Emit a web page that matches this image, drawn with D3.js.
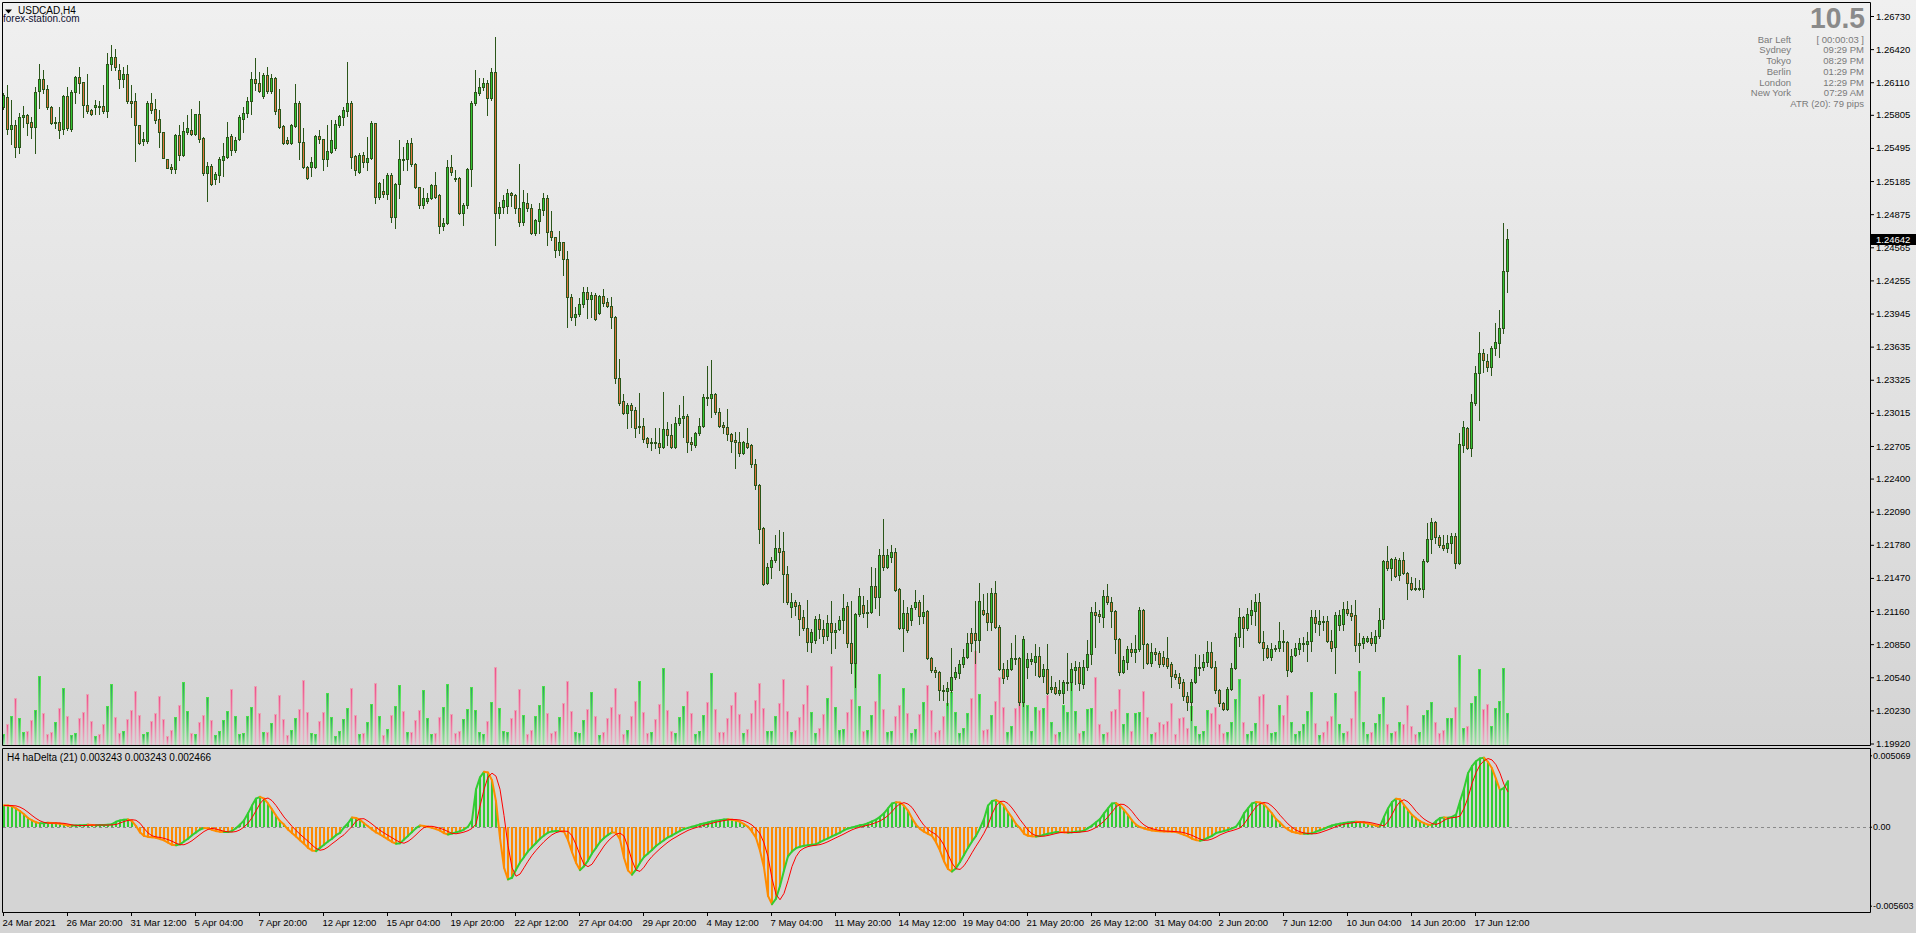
<!DOCTYPE html>
<html><head><meta charset="utf-8">
<script src="https://cdn.jsdelivr.net/npm/d3@7"></script>
<style>body{margin:0;background:#d4d4d4;overflow:hidden}svg{display:block}</style>
</head><body>
<svg id="c" width="1916" height="933"></svg>
<script>
const symbolTitle = "USDCAD,H4";
const watermark = "forex-station.com";
const opens = [
1.2588,1.2597,1.2567,1.2571,1.2550,1.2578,1.2580,1.2574,1.2569,1.2603,
1.2614,1.2605,1.2588,1.2573,1.2574,1.2567,1.2598,1.2567,1.2602,1.2616,
1.2611,1.2590,1.2585,1.2588,1.2589,1.2589,1.2584,1.2628,1.2635,1.2622,
1.2614,1.2619,1.2593,1.2593,1.2571,1.2556,1.2556,1.2592,1.2586,1.2577,
1.2564,1.2539,1.2532,1.2530,1.2562,1.2543,1.2564,1.2566,1.2563,1.2581,
1.2559,1.2526,1.2533,1.2520,1.2524,1.2538,1.2541,1.2561,1.2548,1.2558,
1.2577,1.2582,1.2593,1.2614,1.2610,1.2598,1.2618,1.2603,1.2615,1.2586,
1.2570,1.2557,1.2554,1.2570,1.2592,1.2555,1.2532,1.2532,1.2532,1.2561,
1.2558,1.2539,1.2546,1.2549,1.2571,1.2578,1.2584,1.2592,1.2542,1.2527,
1.2543,1.2536,1.2540,1.2573,1.2504,1.2509,1.2506,1.2524,1.2485,1.2516,
1.2539,1.2539,1.2554,1.2534,1.2513,1.2496,1.2500,1.2503,1.2515,1.2505,
1.2476,1.2479,1.2532,1.2521,1.2521,1.2489,1.2496,1.2530,1.2592,1.2601,
1.2607,1.2610,1.2596,1.2621,1.2489,1.2494,1.2495,1.2507,1.2505,1.2493,
1.2480,1.2498,1.2493,1.2470,1.2481,1.2491,1.2503,1.2472,1.2466,1.2454,
1.2461,1.2446,1.2410,1.2391,1.2394,1.2403,1.2415,1.2408,1.2412,1.2395,
1.2411,1.2405,1.2402,1.2391,1.2334,1.2313,1.2301,1.2309,1.2304,1.2288,
1.2289,1.2278,1.2273,1.2274,1.2273,1.2270,1.2286,1.2281,1.2270,1.2292,
1.2297,1.2299,1.2274,1.2271,1.2283,1.2289,1.2316,1.2315,1.2319,1.2302,
1.2290,1.2288,1.2282,1.2276,1.2274,1.2264,1.2273,1.2271,1.2254,1.2234,
1.2194,1.2142,1.2157,1.2164,1.2175,1.2172,1.2151,1.2120,1.2124,1.2122,
1.2110,1.2100,1.2087,1.2089,1.2109,1.2099,1.2093,1.2105,1.2096,1.2099,
1.2108,1.2121,1.2086,1.2067,1.2113,1.2122,1.2114,1.2115,1.2139,1.2129,
1.2168,1.2157,1.2167,1.2171,1.2137,1.2100,1.2114,1.2108,1.2120,1.2124,
1.2111,1.2116,1.2072,1.2061,1.2059,1.2042,1.2041,1.2042,1.2054,1.2058,
1.2066,1.2073,1.2095,1.2095,1.2089,1.2117,1.2114,1.2106,1.2133,1.2101,
1.2062,1.2055,1.2062,1.2072,1.2072,1.2031,1.2064,1.2069,1.2068,1.2074,
1.2055,1.2062,1.2043,1.2045,1.2039,1.2039,1.2049,1.2050,1.2061,1.2064,
1.2048,1.2064,1.2076,1.2115,1.2113,1.2110,1.2130,1.2124,1.2116,1.2090,
1.2059,1.2068,1.2080,1.2078,1.2080,1.2117,1.2085,1.2067,1.2078,1.2077,
1.2073,1.2072,1.2066,1.2057,1.2054,1.2050,1.2036,1.2031,1.2050,1.2063,
1.2064,1.2068,1.2078,1.2064,1.2042,1.2030,1.2024,1.2043,1.2063,1.2092,
1.2110,1.2100,1.2112,1.2116,1.2124,1.2087,1.2081,1.2073,1.2080,1.2081,
1.2088,1.2087,1.2060,1.2075,1.2080,1.2085,1.2085,1.2088,1.2110,1.2104,
1.2107,1.2107,1.2088,1.2082,1.2103,1.2104,1.2118,1.2114,1.2112,1.2084,
1.2086,1.2088,1.2091,1.2086,1.2093,1.2109,1.2163,1.2156,1.2165,1.2150,
1.2164,1.2152,1.2142,1.2138,1.2137,1.2137,1.2163,1.2183,1.2199,1.2185,
1.2178,1.2175,1.2180,1.2186,1.2161,1.2271,1.2287,1.2269,1.2311,1.2339,
1.2358,1.2350,1.2344,1.2362,1.2367,1.2381,1.2434];
const highs = [
1.2601,1.2608,1.2594,1.2576,1.2582,1.2589,1.2581,1.2578,1.2607,1.2628,
1.2622,1.2608,1.2589,1.2578,1.2588,1.2599,1.2607,1.2604,1.2617,1.2625,
1.2611,1.2619,1.2586,1.2594,1.2593,1.2608,1.2638,1.2646,1.2642,1.2628,
1.2625,1.2627,1.2608,1.2601,1.2571,1.2564,1.2593,1.2601,1.2595,1.2585,
1.2564,1.2539,1.2534,1.2563,1.2571,1.2574,1.2580,1.2586,1.2581,1.2593,
1.2560,1.2536,1.2534,1.2527,1.2541,1.2554,1.2574,1.2563,1.2560,1.2580,
1.2588,1.2597,1.2621,1.2634,1.2621,1.2620,1.2625,1.2619,1.2616,1.2605,
1.2571,1.2560,1.2572,1.2609,1.2593,1.2568,1.2533,1.2541,1.2562,1.2566,
1.2558,1.2571,1.2576,1.2576,1.2580,1.2588,1.2630,1.2593,1.2543,1.2545,
1.2546,1.2560,1.2575,1.2573,1.2518,1.2520,1.2526,1.2526,1.2517,1.2557,
1.2550,1.2557,1.2559,1.2535,1.2513,1.2512,1.2507,1.2516,1.2527,1.2506,
1.2484,1.2538,1.2543,1.2529,1.2522,1.2498,1.2531,1.2593,1.2622,1.2615,
1.2615,1.2613,1.2624,1.2653,1.2499,1.2505,1.2511,1.2508,1.2506,1.2534,
1.2510,1.2507,1.2497,1.2483,1.2498,1.2507,1.2505,1.2490,1.2466,1.2472,
1.2461,1.2453,1.2413,1.2401,1.2409,1.2419,1.2419,1.2415,1.2414,1.2412,
1.2417,1.2409,1.2410,1.2392,1.2352,1.2319,1.2311,1.2311,1.2307,1.2320,
1.2297,1.2279,1.2278,1.2287,1.2287,1.2321,1.2293,1.2291,1.2298,1.2309,
1.2317,1.2300,1.2279,1.2284,1.2297,1.2319,1.2345,1.2351,1.2320,1.2306,
1.2293,1.2305,1.2283,1.2284,1.2284,1.2275,1.2287,1.2272,1.2258,1.2235,
1.2195,1.2161,1.2167,1.2187,1.2192,1.2190,1.2158,1.2133,1.2126,1.2124,
1.2117,1.2126,1.2099,1.2111,1.2113,1.2108,1.2112,1.2125,1.2105,1.2111,
1.2132,1.2124,1.2125,1.2114,1.2138,1.2130,1.2126,1.2157,1.2156,1.2174,
1.2202,1.2174,1.2178,1.2175,1.2138,1.2126,1.2120,1.2122,1.2136,1.2126,
1.2131,1.2117,1.2073,1.2064,1.2060,1.2047,1.2050,1.2081,1.2064,1.2070,
1.2080,1.2095,1.2100,1.2125,1.2142,1.2132,1.2133,1.2138,1.2144,1.2103,
1.2067,1.2070,1.2086,1.2094,1.2073,1.2093,1.2077,1.2077,1.2085,1.2082,
1.2066,1.2085,1.2055,1.2050,1.2051,1.2051,1.2077,1.2067,1.2069,1.2068,
1.2070,1.2089,1.2120,1.2124,1.2117,1.2136,1.2141,1.2129,1.2117,1.2091,
1.2074,1.2083,1.2086,1.2094,1.2120,1.2118,1.2086,1.2086,1.2081,1.2079,
1.2079,1.2092,1.2068,1.2061,1.2058,1.2052,1.2040,1.2052,1.2076,1.2075,
1.2076,1.2088,1.2087,1.2069,1.2043,1.2031,1.2045,1.2067,1.2095,1.2119,
1.2111,1.2119,1.2126,1.2132,1.2133,1.2097,1.2084,1.2086,1.2084,1.2106,
1.2098,1.2088,1.2080,1.2086,1.2091,1.2092,1.2096,1.2117,1.2117,1.2117,
1.2111,1.2111,1.2098,1.2115,1.2117,1.2124,1.2125,1.2122,1.2126,1.2095,
1.2093,1.2093,1.2096,1.2098,1.2119,1.2164,1.2177,1.2166,1.2167,1.2166,
1.2171,1.2153,1.2148,1.2147,1.2145,1.2165,1.2198,1.2203,1.2200,1.2187,
1.2187,1.2187,1.2189,1.2189,1.2283,1.2294,1.2288,1.2319,1.2345,1.2377,
1.2361,1.2357,1.2364,1.2386,1.2398,1.2479,1.2474];
const lows = [
1.2586,1.2563,1.2553,1.2541,1.2545,1.2569,1.2562,1.2559,1.2545,1.2587,
1.2601,1.2586,1.2572,1.2568,1.2559,1.2563,1.2566,1.2565,1.2592,1.2601,
1.2578,1.2582,1.2580,1.2581,1.2581,1.2582,1.2578,1.2622,1.2622,1.2606,
1.2607,1.2592,1.2578,1.2537,1.2553,1.2552,1.2554,1.2582,1.2573,1.2550,
1.2540,1.2531,1.2526,1.2526,1.2538,1.2542,1.2563,1.2562,1.2562,1.2555,
1.2524,1.2500,1.2515,1.2516,1.2518,1.2523,1.2540,1.2543,1.2546,1.2557,
1.2564,1.2578,1.2581,1.2604,1.2602,1.2596,1.2601,1.2601,1.2581,1.2568,
1.2553,1.2553,1.2553,1.2569,1.2539,1.2531,1.2520,1.2523,1.2531,1.2554,
1.2529,1.2533,1.2545,1.2548,1.2569,1.2571,1.2579,1.2531,1.2524,1.2526,
1.2532,1.2529,1.2539,1.2498,1.2502,1.2504,1.2502,1.2480,1.2475,1.2503,
1.2529,1.2529,1.2533,1.2512,1.2493,1.2493,1.2498,1.2502,1.2503,1.2470,
1.2473,1.2478,1.2524,1.2519,1.2488,1.2477,1.2493,1.2514,1.2590,1.2599,
1.2604,1.2580,1.2594,1.2459,1.2484,1.2489,1.2489,1.2495,1.2489,1.2476,
1.2477,1.2490,1.2469,1.2468,1.2470,1.2487,1.2459,1.2463,1.2447,1.2449,
1.2431,1.2382,1.2388,1.2384,1.2392,1.2401,1.2390,1.2391,1.2388,1.2394,
1.2402,1.2401,1.2381,1.2329,1.2309,1.2300,1.2287,1.2288,1.2279,1.2283,
1.2274,1.2270,1.2267,1.2269,1.2264,1.2269,1.2271,1.2269,1.2269,1.2290,
1.2279,1.2265,1.2267,1.2270,1.2281,1.2288,1.2309,1.2298,1.2300,1.2288,
1.2283,1.2276,1.2265,1.2250,1.2261,1.2263,1.2269,1.2251,1.2230,1.2180,
1.2140,1.2141,1.2147,1.2162,1.2154,1.2124,1.2123,1.2110,1.2112,1.2094,
1.2098,1.2079,1.2078,1.2086,1.2091,1.2086,1.2089,1.2077,1.2081,1.2098,
1.2095,1.2082,1.2058,1.2045,1.2111,1.2110,1.2101,1.2114,1.2119,1.2112,
1.2154,1.2156,1.2162,1.2135,1.2099,1.2079,1.2096,1.2103,1.2118,1.2104,
1.2105,1.2071,1.2059,1.2054,1.2033,1.2033,1.2028,1.2040,1.2052,1.2053,
1.2064,1.2072,1.2079,1.2067,1.2078,1.2112,1.2098,1.2098,1.2100,1.2061,
1.2049,1.2052,1.2061,1.2066,1.2028,1.2027,1.2053,1.2066,1.2056,1.2054,
1.2050,1.2038,1.2040,1.2038,1.2037,1.2030,1.2042,1.2042,1.2048,1.2042,
1.2044,1.2061,1.2066,1.2082,1.2106,1.2101,1.2123,1.2101,1.2077,1.2056,
1.2058,1.2062,1.2074,1.2068,1.2079,1.2063,1.2066,1.2065,1.2070,1.2064,
1.2065,1.2063,1.2045,1.2052,1.2044,1.2033,1.2023,1.2014,1.2049,1.2056,
1.2061,1.2065,1.2063,1.2039,1.2027,1.2023,1.2023,1.2042,1.2062,1.2083,
1.2082,1.2098,1.2104,1.2103,1.2086,1.2070,1.2072,1.2070,1.2079,1.2079,
1.2079,1.2055,1.2059,1.2074,1.2076,1.2079,1.2069,1.2079,1.2096,1.2094,
1.2098,1.2087,1.2079,1.2058,1.2098,1.2098,1.2112,1.2108,1.2079,1.2068,
1.2081,1.2087,1.2084,1.2079,1.2091,1.2100,1.2154,1.2145,1.2148,1.2145,
1.2151,1.2127,1.2136,1.2136,1.2136,1.2129,1.2162,1.2170,1.2180,1.2176,
1.2173,1.2171,1.2170,1.2156,1.2160,1.2265,1.2268,1.2261,1.2309,1.2295,
1.2340,1.2341,1.2337,1.2356,1.2354,1.2376,1.2415];
const closes = [
1.2599,1.2567,1.2571,1.2550,1.2578,1.2580,1.2573,1.2569,1.2602,1.2614,
1.2605,1.2588,1.2573,1.2574,1.2566,1.2598,1.2568,1.2602,1.2616,1.2610,
1.2590,1.2584,1.2581,1.2590,1.2588,1.2584,1.2628,1.2635,1.2625,1.2614,
1.2619,1.2593,1.2592,1.2571,1.2554,1.2558,1.2592,1.2585,1.2576,1.2564,
1.2540,1.2531,1.2530,1.2562,1.2543,1.2565,1.2568,1.2563,1.2581,1.2558,
1.2526,1.2533,1.2516,1.2525,1.2539,1.2542,1.2560,1.2548,1.2557,1.2578,
1.2582,1.2593,1.2614,1.2610,1.2603,1.2618,1.2603,1.2615,1.2584,1.2569,
1.2554,1.2554,1.2571,1.2592,1.2555,1.2532,1.2521,1.2536,1.2561,1.2558,
1.2539,1.2547,1.2557,1.2572,1.2579,1.2585,1.2592,1.2541,1.2529,1.2543,
1.2536,1.2540,1.2573,1.2504,1.2517,1.2506,1.2524,1.2485,1.2516,1.2539,
1.2538,1.2554,1.2534,1.2513,1.2496,1.2503,1.2503,1.2515,1.2504,1.2476,
1.2479,1.2532,1.2527,1.2520,1.2489,1.2496,1.2530,1.2592,1.2602,1.2607,
1.2610,1.2596,1.2621,1.2489,1.2494,1.2501,1.2507,1.2505,1.2493,1.2480,
1.2499,1.2493,1.2470,1.2482,1.2492,1.2503,1.2471,1.2466,1.2454,1.2461,
1.2446,1.2410,1.2391,1.2394,1.2403,1.2415,1.2408,1.2412,1.2389,1.2411,
1.2404,1.2402,1.2391,1.2334,1.2311,1.2301,1.2309,1.2304,1.2287,1.2289,
1.2277,1.2273,1.2274,1.2273,1.2270,1.2286,1.2281,1.2270,1.2292,1.2297,
1.2299,1.2274,1.2272,1.2283,1.2289,1.2316,1.2315,1.2319,1.2302,1.2289,
1.2288,1.2282,1.2275,1.2274,1.2264,1.2274,1.2270,1.2254,1.2234,1.2193,
1.2141,1.2157,1.2164,1.2175,1.2171,1.2151,1.2124,1.2124,1.2121,1.2109,
1.2100,1.2087,1.2096,1.2109,1.2099,1.2093,1.2105,1.2096,1.2098,1.2108,
1.2119,1.2086,1.2067,1.2113,1.2130,1.2114,1.2115,1.2139,1.2129,1.2168,
1.2157,1.2168,1.2171,1.2136,1.2100,1.2114,1.2098,1.2119,1.2124,1.2111,
1.2115,1.2072,1.2061,1.2059,1.2042,1.2041,1.2044,1.2054,1.2059,1.2066,
1.2073,1.2086,1.2086,1.2089,1.2125,1.2113,1.2106,1.2133,1.2101,1.2062,
1.2053,1.2062,1.2072,1.2071,1.2031,1.2090,1.2071,1.2071,1.2074,1.2055,
1.2062,1.2039,1.2045,1.2039,1.2042,1.2050,1.2050,1.2062,1.2064,1.2049,
1.2064,1.2076,1.2115,1.2112,1.2111,1.2130,1.2124,1.2116,1.2090,1.2059,
1.2070,1.2080,1.2078,1.2080,1.2117,1.2085,1.2067,1.2078,1.2076,1.2066,
1.2066,1.2065,1.2055,1.2054,1.2049,1.2036,1.2031,1.2050,1.2064,1.2064,
1.2068,1.2078,1.2064,1.2042,1.2030,1.2024,1.2043,1.2063,1.2092,1.2110,
1.2100,1.2113,1.2117,1.2124,1.2087,1.2081,1.2073,1.2080,1.2081,1.2088,
1.2087,1.2061,1.2074,1.2081,1.2086,1.2086,1.2088,1.2110,1.2105,1.2107,
1.2106,1.2088,1.2081,1.2112,1.2112,1.2118,1.2114,1.2111,1.2084,1.2086,
1.2091,1.2091,1.2086,1.2093,1.2108,1.2163,1.2156,1.2165,1.2149,1.2164,
1.2152,1.2142,1.2137,1.2137,1.2138,1.2163,1.2183,1.2199,1.2185,1.2178,
1.2175,1.2180,1.2186,1.2161,1.2272,1.2288,1.2269,1.2312,1.2339,1.2358,
1.2351,1.2344,1.2362,1.2368,1.2381,1.2434,1.24642];
// tick volume (hundreds of ticks)
const tickVolume = [
12,22,30,48,28,14, 15,26,36,70,33,12, 14,24,38,58,30,11, 13,28,34,52,25,10,
12,22,40,62,29,13, 15,27,36,55,31,12, 14,25,33,50,27,10, 16,29,41,64,35,13,
12,24,31,49,26,11, 15,26,35,57,30,12, 13,30,39,60,33,14, 14,23,32,51,27,11,
16,28,37,66,34,13, 12,25,34,53,29,10, 15,27,38,58,31,12, 13,24,42,63,30,11,
17,31,40,61,35,14, 14,26,36,56,28,12, 13,29,39,62,32,13, 15,27,37,59,36,14,
12,25,44,79,38,15, 14,28,36,57,31,12, 16,30,41,60,33,13, 15,29,43,65,35,14,
13,26,37,54,30,11, 14,28,39,58,32,12, 16,30,45,65,34,13, 14,27,42,78,36,15,
13,29,40,55,33,12, 15,31,44,73,37,14, 14,28,41,54,32,13, 17,33,46,63,38,15,
15,30,43,67,35,14, 16,29,42,61,34,13, 18,32,48,80,39,16, 17,34,47,84,40,15,
16,31,45,72,37,14, 15,30,41,58,33,13, 17,32,44,61,36,14, 16,30,43,54,34,13,
18,33,48,95,52,16, 17,31,45,69,39,14, 20,38,44,58,41,15, 39,36,38,51,24,12,
14,41,34,73,35,13, 15,37,38,69,22,12, 14,35,37,57,22,33, 15,33,34,55,29,12,
14,24,22,25,43,12, 28,29,18,40,20,12, 15,36,33,39,22,13, 14,24,47,67,24,12,
15,23,50,52,22,13, 14,41,31,51,24,12, 15,22,35,54,23,11, 14,25,30,53,22,13,
15,28,55,75,24,12, 14,23,32,49,22,13, 15,24,22,41,20,12, 14,31,36,44,24,13,
16,28,28,39,91,18, 20,43,50,77,37,42, 20,38,45,78,33];
// haDelta histogram / main line, in points (1 point = 0.00001)
const haDeltaPts = [
152,150,145,130,111,88,62,45,32,24, 24,28,27,25,22,15,9,8,9,10,
10,15,12,11,12,13,14,18,35,45, 50,52,40,5,-40,-65,-72,-75,-78,-88,
-97,-112,-128,-132,-125,-105,-85,-60,-40,-20, -9,-10,-22,-31,-36,-38,-38,-30,-10,15,
45,95,150,200,212,200,165,123,80,40, 15,-20,-45,-70,-95,-120,-150,-168,-173,-150,
-128,-105,-85,-60,-43,-5,25,65,62,50, 25,3,-20,-40,-55,-72,-90,-108,-120,-118,
-90,-65,-38,-10,9,5,0,-8,-17,-28, -45,-55,-48,-40,-32,-20,0,45,265,350,
390,385,330,180,-80,-290,-374,-362,-305,-254, -215,-175,-145,-115,-85,-62,-42,-33,-31,-31,
-35,-95,-180,-255,-308,-280,-240,-190,-150,-108, -80,-58,-40,-42,-90,-220,-310,-340,-305,-255,
-215,-190,-165,-137,-115,-95,-75,-62,-45,-30, -16,-8,0,8,17,23,30,38,42,47,
52,53,50,45,35,18,0,-35,-78,-170, -290,-491,-550,-510,-420,-310,-210,-175,-152,-142,
-135,-132,-128,-125,-110,-95,-83,-68,-55,-42, -25,-12,-5,2,10,15,25,38,50,70,
95,130,165,173,172,150,115,60,15,-15, -35,-50,-65,-110,-170,-245,-300,-318,-295,-250,
-200,-150,-105,-65,-10,55,150,182,189,175, 150,105,65,20,-10,-50,-64,-68,-70,-65,
-57,-50,-44,-38,-38,-40,-42,-40,-36,-33, -28,-10,8,32,55,95,130,165,168,150,
120,85,45,15,-2,-12,-20,-26,-30,-32, -33,-34,-36,-38,-47,-58,-68,-85,-95,-100,
-92,-78,-65,-45,-38,-30,-22,-12,0,40, 95,130,165,175,172,160,128,95,55,30,
0,-20,-36,-43,-48,-50,-50,-47,-35,-25, -15,-2,9,16,22,26,30,33,35,33,
30,22,15,8,2,70,130,175,199,195, 155,120,85,60,40,26,15,12,40,62,
65,64,70,85,180,270,380,430,465,485, 490,460,415,340,260,275,324];
// haDelta signal line, in points
const haSignalPts = [
150,151,150,148,139,124,103,80,59,42, 31,26,26,27,26,24,19,13,10,9,
9,10,12,12,12,12,12,13,16,26, 37,45,50,46,25,-11,-44,-64,-72,-76,
-82,-91,-103,-117,-127,-128,-116,-99,-77,-55, -34,-19,-12,-16,-24,-32,-36,-38,-34,-22,
-2,25,64,113,164,196,204,185,151,110, 69,36,3,-26,-53,-78,-103,-130,-153,-167,
-161,-144,-121,-100,-77,-57,-27,2,39,56, 57,40,19,-4,-25,-44,-61,-78,-95,-110,
-117,-104,-83,-57,-29,-6,3,3,-3,-11, -21,-34,-47,-50,-45,-38,-28,-12,19,146,
264,353,380,359,266,80,-133,-290,-351,-336, -291,-245,-203,-168,-136,-106,-80,-57,-42,-34,
-31,-33,-64,-126,-201,-267,-283,-266,-223,-180, -137,-102,-75,-53,-45,-66,-145,-239,-307,-317,
-287,-245,-211,-183,-156,-132,-109,-89,-73,-56, -41,-26,-15,-6,2,11,18,25,33,38,
44,49,52,51,48,41,29,12,-14,-50, -115,-212,-367,-480,-518,-473,-383,-282,-213,-171,
-152,-141,-135,-131,-127,-118,-106,-92,-78,-65, -51,-36,-22,-11,-3,5,11,19,30,41,
58,79,108,141,162,171,161,137,95,49, 9,-19,-39,-55,-85,-131,-196,-258,-298,-303,
-277,-234,-185,-138,-94,-46,12,90,147,179, 181,165,133,94,51,14,-24,-49,-63,-68,
-67,-62,-55,-48,-42,-39,-39,-41,-41,-38, -35,-31,-20,-5,16,39,70,105,141,160,
158,139,109,72,38,13,-4,-14,-21,-27, -30,-32,-33,-35,-37,-42,-51,-61,-75,-87,
-96,-95,-87,-74,-58,-46,-35,-28,-19,-8, 18,60,102,141,163,172,167,146,118,82,
51,20,-4,-24,-36,-44,-48,-50,-49,-42, -32,-22,-11,1,10,18,23,27,31,33,
34,32,27,20,13,6,37,86,141,178, 192,176,146,110,80,55,37,23,16,27,
45,59,64,67,76,130,206,307,383,438, 468,484,474,440,380,300,247];
const priceTicks = [1.26730,1.26420,1.26110,1.25805,1.25495,1.25185,1.24875,1.24565,1.24255,1.23945,1.23635,1.23325,1.23015,1.22705,1.22400,1.22090,1.21780,1.21470,1.21160,1.20850,1.20540,1.20230,1.19920];
const timeLabels = ["24 Mar 2021","26 Mar 20:00","31 Mar 12:00","5 Apr 04:00","7 Apr 20:00","12 Apr 12:00","15 Apr 04:00","19 Apr 20:00","22 Apr 12:00","27 Apr 04:00","29 Apr 20:00","4 May 12:00","7 May 04:00","11 May 20:00","14 May 12:00","19 May 04:00","21 May 20:00","26 May 12:00","31 May 04:00","2 Jun 20:00","7 Jun 12:00","10 Jun 04:00","14 Jun 20:00","17 Jun 12:00"];
const timeLabelEvery = 16;
const infoLabels = ["Bar Left","Sydney","Tokyo","Berlin","London","New York"];
const infoValues = ["[ 00:00:03 ]","09:29 PM","08:29 PM","01:29 PM","12:29 PM","07:29 AM"];
const atrText = "ATR (20): 79 pips";
const spreadText = "10.5";
const indicatorTicks = [0.005069, 0, -0.005603];
const indicatorTickText = ["0.005069","0.00","-0.005603"];
const indicatorTitle = "H4 haDelta (21) 0.003243 0.003243 0.002466";
const lastPrice = 1.24642;

const FONT = "'Liberation Sans', Arial, sans-serif";
const N = closes.length;
const svg = d3.select("#c");
const defs = svg.append("defs");
function grad(id, c1, c2){
  const g = defs.append("linearGradient").attr("id",id).attr("x1",0).attr("y1",0).attr("x2",0).attr("y2",1);
  g.append("stop").attr("offset","0%").attr("stop-color",c1);
  g.append("stop").attr("offset","100%").attr("stop-color",c2);
}
grad("bg","#f0f0f0","#d4d4d4");
grad("vUp","#48e048","#c4e6c4");
grad("vUpC","#2f9f66","#aad8b2");
grad("vDn","#eaa2b4","#ddd0d5");
grad("vDnC","#f0508c","#e6bccb");
defs.append("clipPath").attr("id","clipMain").append("rect").attr("x",3).attr("y",3).attr("width",1867).attr("height",742);
defs.append("clipPath").attr("id","clipInd").append("rect").attr("x",3).attr("y",749).attr("width",1867).attr("height",163);

svg.append("rect").attr("x",0).attr("y",0).attr("width",1916).attr("height",747).attr("fill","url(#bg)");
svg.append("rect").attr("x",0).attr("y",747).attr("width",1916).attr("height",186).attr("fill","#d4d4d4");

const x = d3.scaleLinear().domain([0, N-1]).range([3, 3 + 4*(N-1)]);
const y = d3.scaleLinear().domain([1.19920, 1.26730]).range([743.5, 16]);
const vy = d3.scaleLinear().domain([0, 100]).range([746, 646]);
const iy = d3.scaleLinear().domain([-0.005603, 0.005069]).range([905.7, 755.3]);
const up = i => closes[i] >= opens[i];
const idx = d3.range(N);

const gMain = svg.append("g").attr("clip-path","url(#clipMain)");
// volumes
gMain.append("g").selectAll("rect").data(idx).join("rect")
  .attr("x", i => x(i)-1).attr("width",3)
  .attr("y", i => Math.round(vy(tickVolume[i]))).attr("height", i => 746 - Math.round(vy(tickVolume[i])))
  .attr("fill", i => up(i) ? "url(#vUp)" : "url(#vDn)").attr("shape-rendering","crispEdges");
gMain.append("g").selectAll("rect").data(idx).join("rect")
  .attr("x", i => x(i)).attr("width",1)
  .attr("y", i => Math.round(vy(tickVolume[i]))+1).attr("height", i => Math.max(0, 745 - Math.round(vy(tickVolume[i]))))
  .attr("fill", i => up(i) ? "url(#vUpC)" : "url(#vDnC)").attr("shape-rendering","crispEdges");
// candles
const OUT = "#2b561a";
gMain.append("g").selectAll("line").data(idx).join("line")
  .attr("x1", i => x(i)+0.5).attr("x2", i => x(i)+0.5)
  .attr("y1", i => Math.round(y(highs[i]))).attr("y2", i => Math.round(y(lows[i]))+1)
  .attr("stroke", OUT).attr("stroke-width",1);
const bodies = gMain.append("g");
idx.forEach(i => {
  const t = Math.round(y(Math.max(opens[i], closes[i])));
  const b = Math.round(y(Math.min(opens[i], closes[i])));
  if (b - t < 1) {
    bodies.append("rect").attr("x", x(i)-1).attr("y", t).attr("width",3).attr("height",1).attr("fill",OUT);
  } else {
    bodies.append("rect").attr("x", x(i)-0.5).attr("y", t+0.5).attr("width",2).attr("height", b-t)
      .attr("fill", up(i) ? "#33c433" : "#e0743e").attr("stroke", OUT).attr("stroke-width",1);
  }
});

// indicator
const gInd = svg.append("g").attr("clip-path","url(#clipInd)");
const y0 = Math.round(iy(0));
gInd.append("line").attr("x1",3).attr("x2",1870).attr("y1",y0+0.5).attr("y2",y0+0.5)
  .attr("stroke","#8a8a8a").attr("stroke-dasharray","3,3");
gInd.append("g").selectAll("rect").data(idx).join("rect")
  .attr("x", i => x(i)).attr("width",2)
  .attr("y", i => Math.min(iy(haDeltaPts[i]/1e5), iy(0)))
  .attr("height", i => Math.abs(iy(haDeltaPts[i]/1e5) - iy(0)))
  .attr("fill", i => haDeltaPts[i] >= 0 ? "#32cd32" : "#ff8c00").attr("shape-rendering","crispEdges");
gInd.append("g").selectAll("line").data(d3.range(1,N)).join("line")
  .attr("x1", i => x(i-1)+1).attr("x2", i => x(i)+1)
  .attr("y1", i => iy(haDeltaPts[i-1]/1e5)).attr("y2", i => iy(haDeltaPts[i]/1e5))
  .attr("stroke", i => haDeltaPts[i] >= haDeltaPts[i-1] ? "#32cd32" : "#ff8c00")
  .attr("stroke-width",2).attr("stroke-linecap","round");
gInd.append("path").datum(idx)
  .attr("d", d3.line().x(i => x(i)+1).y(i => iy(haSignalPts[i]/1e5)))
  .attr("fill","none").attr("stroke","#ff0000").attr("stroke-width",1);

// borders
svg.append("path").attr("d","M2.5,2.5H1870.5V745.5H2.5Z").attr("fill","none").attr("stroke","#000");
svg.append("path").attr("d","M2.5,748.5H1870.5V912.5H2.5Z").attr("fill","none").attr("stroke","#000");

function styleAxis(g){
  g.attr("font-family", FONT).attr("font-size", 9.5);
  g.select(".domain").remove();
  g.selectAll(".tick line").attr("stroke","#000");
  g.selectAll(".tick text").attr("fill","#000");
}
svg.append("g").attr("transform","translate(1870,0)")
  .call(d3.axisRight(y).tickValues(priceTicks).tickSize(4).tickSizeOuter(0).tickPadding(2).tickFormat(d3.format(".5f")))
  .call(styleAxis);
const ia = svg.append("g").attr("transform","translate(1870,0)")
  .call(d3.axisRight(iy).tickValues(indicatorTicks).tickSize(2).tickSizeOuter(0).tickPadding(1).tickFormat((d,k)=>indicatorTickText[k]))
  .call(styleAxis);
ia.attr("font-size", 9);
const xa = svg.append("g").attr("transform","translate(0,912)")
  .call(d3.axisBottom(x).tickValues(d3.range(0, N, timeLabelEvery)).tickSize(4).tickSizeOuter(0).tickPadding(3).tickFormat((d,k)=>timeLabels[k]))
  .call(styleAxis);
xa.selectAll(".tick text").attr("text-anchor","start").attr("x",-1);

// current price box
const py = y(lastPrice);
svg.append("rect").attr("x",1871).attr("y",Math.round(py)-5).attr("width",45).attr("height",11).attr("fill","#000");
svg.append("text").attr("x",1876).attr("y",Math.round(py)+4).attr("font-family",FONT).attr("font-size",9.5)
  .attr("fill","#fff").text(d3.format(".5f")(lastPrice));

// title
svg.append("path").attr("d","M5,9.5L12,9.5L8.5,13.5Z").attr("fill","#000");
svg.append("text").attr("x",18).attr("y",14).attr("font-family",FONT).attr("font-size",10).attr("fill","#000").text(symbolTitle);
svg.append("text").attr("x",3).attr("y",21.5).attr("font-family",FONT).attr("font-size",10).attr("fill","#101030").text(watermark);
svg.append("text").attr("x",7).attr("y",761).attr("font-family",FONT).attr("font-size",10).attr("fill","#000").text(indicatorTitle);

// info panel
svg.append("text").attr("x",1865).attr("y",28).attr("text-anchor","end").attr("font-family",FONT)
  .attr("font-size",30).attr("font-weight","bold").attr("fill","#8a8a8a")
  .attr("textLength",55).attr("lengthAdjust","spacingAndGlyphs").text(spreadText);
const info = svg.append("g").attr("font-family",FONT).attr("font-size",9.5).attr("fill","#7a7a7a");
info.selectAll("text.l").data(infoLabels).join("text").attr("class","l")
  .attr("x",1791).attr("y",(d,k)=>42.5+k*10.75).attr("text-anchor","end").text(d=>d);
info.selectAll("text.v").data(infoValues).join("text").attr("class","v")
  .attr("x",1864).attr("y",(d,k)=>42.5+k*10.75).attr("text-anchor","end").text(d=>d);
info.append("text").attr("x",1864).attr("y",42.5+6*10.75).attr("text-anchor","end").text(atrText);
</script>
</body></html>
